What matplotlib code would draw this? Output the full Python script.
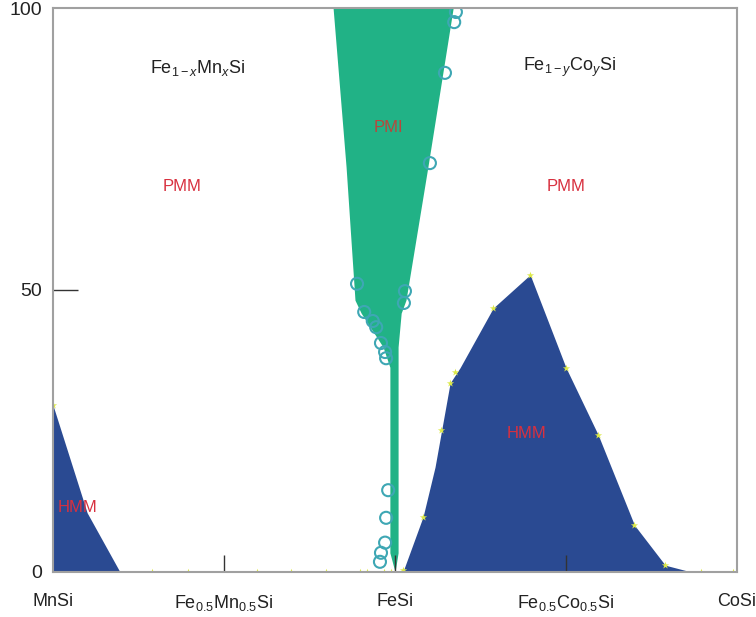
import numpy as np
import matplotlib.pyplot as plt

plt.rcParams['font.family'] = ['Liberation Sans', 'DejaVu Sans']
plt.rcParams['mathtext.fontset'] = 'custom'
plt.rcParams['mathtext.rm'] = 'Liberation Sans'
plt.rcParams['mathtext.it'] = 'Liberation Sans:italic'

# composition axis: MnSi = -1, FeSi = 0, CoSi = 1
tick_pos = [-1, -0.5, 0, 0.5, 1]
tick_lab = ['MnSi', r'Fe$_{0.5}$Mn$_{0.5}$Si', 'FeSi', r'Fe$_{0.5}$Co$_{0.5}$Si', 'CoSi']

# PMI region (green), boundaries as a function of height
pmi_y = [0, 3.4, 36.3, 39.9, 45.9, 48.2, 71.8, 100]
pmi_left = [0, -0.015, -0.015, -0.035, -0.099, -0.117, -0.143, -0.181]
pmi_right = [0, 0.009, 0.009, 0.009, 0.018, 0.032, 0.096, 0.170]

# PMI boundary points (open circles)
circ_x = [0.178, 0.173, 0.146, 0.102, 0.029, 0.026, -0.111, -0.090, -0.065, -0.055,
          -0.041, -0.029, -0.026, -0.020, -0.026, -0.029, -0.041, -0.044]
circ_y = [99.3, 97.5, 88.5, 72.5, 49.8, 47.7, 51.1, 46.1, 44.5, 43.4,
          40.6, 39.0, 37.9, 14.5, 9.6, 5.2, 3.4, 1.8]

# HMM region on the Mn side
hmm_mn_x = [-1, -0.900, -0.804]
hmm_mn_y = [29.6, 10.5, 0]

# HMM region on the Co side
hmm_co_x = [0.023, 0.082, 0.117, 0.161, 0.190, 0.287, 0.395, 0.500, 0.594, 0.700, 0.790, 0.866]
hmm_co_y = [0, 9.8, 18.6, 33.5, 36.2, 46.8, 52.7, 36.2, 24.3, 8.3, 1.2, 0]

# calculated points (yellow stars)
star_x = [-1, -0.709, -0.605, -0.404, -0.304, -0.202, -0.102, -0.082, -0.032, -0.012,
          0.023, 0.082, 0.135, 0.161, 0.175, 0.287, 0.395, 0.500, 0.594, 0.700, 0.790,
          0.895, 0.988]
star_y = [29.6, 0, 0, 0, 0, 0, 0, 0, 0, 0,
          0.4, 9.8, 25.2, 33.5, 35.5, 46.8, 52.7, 36.2, 24.3, 8.3, 1.2,
          0, 0]

green = '#21b286'
blue = '#2a4a92'
red = '#d8303f'

fig = plt.figure(figsize=(7.56, 6.17), dpi=100)
ax = fig.add_axes([0.070, 0.073, 0.905, 0.914])

ax.fill_betweenx(pmi_y, pmi_left, pmi_right, color=green, lw=0, zorder=1)
ax.fill_between(hmm_mn_x, hmm_mn_y, 0, color=blue, lw=0, zorder=1)
ax.fill_between(hmm_co_x, hmm_co_y, 0, color=blue, lw=0, zorder=1)

ax.scatter(circ_x, circ_y, s=75, facecolors='none', edgecolors='#3ea7b4', linewidths=1.5, zorder=3)
ax.scatter(star_x, star_y, s=30, marker='*', color='#dde94a', linewidths=0, zorder=3)

ax.text(-0.576, 89.4, r'Fe$_{1-x}$Mn$_x$Si', fontsize=13, color='#222222', ha='center', va='center')
ax.text(0.512, 89.4, r'Fe$_{1-y}$Co$_y$Si', fontsize=13, color='#222222', ha='center', va='center')
ax.text(-0.623, 68.4, 'PMM', fontsize=12, color=red, ha='center', va='center')
ax.text(0.500, 68.4, 'PMM', fontsize=12, color=red, ha='center', va='center')
ax.text(-0.020, 78.9, 'PMI', fontsize=12, color='#b8473c', ha='center', va='center')
ax.text(0.383, 24.5, 'HMM', fontsize=12, color=red, ha='center', va='center')
ax.text(-0.927, 11.5, 'HMM', fontsize=12, color=red, ha='center', va='center')

ax.set_xlim(-1, 1)
ax.set_ylim(0, 100)
ax.set_xticks(tick_pos)
ax.set_xticklabels(tick_lab)
ax.set_yticks([0, 50, 100])
ax.tick_params(axis='x', direction='in', length=12, width=1, color='#333333',
               labelsize=13, pad=15, labelcolor='#222222')
ax.tick_params(axis='y', direction='in', length=18, width=1, color='#333333',
               labelsize=14, pad=8, labelcolor='#222222')
# no tick marks on the corners, only the labels
for t in [ax.xaxis.get_major_ticks()[0], ax.xaxis.get_major_ticks()[-1],
          ax.yaxis.get_major_ticks()[0], ax.yaxis.get_major_ticks()[-1]]:
    t.tick1line.set_visible(False)
for s in ax.spines.values():
    s.set_color('#a0a0a0')
    s.set_linewidth(1.5)
    s.set_zorder(4)

fig.savefig('out.png', dpi=100)
